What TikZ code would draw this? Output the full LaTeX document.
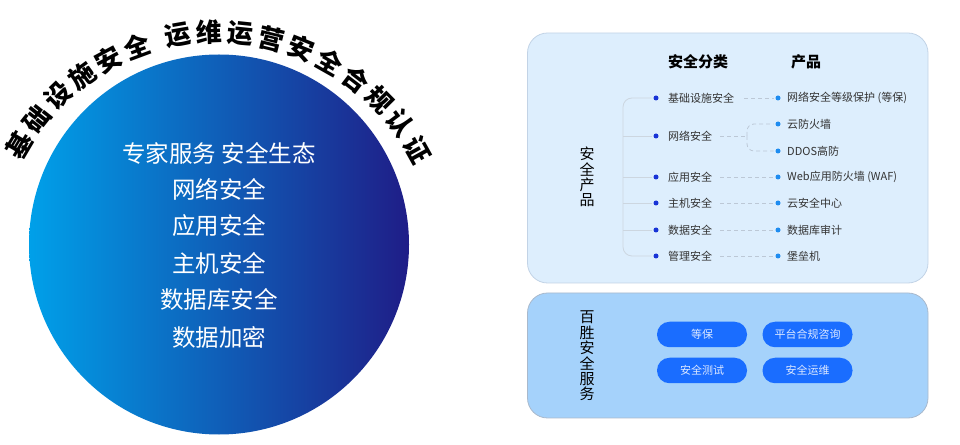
\documentclass[tikz,border=0pt]{standalone}
\usepackage{fontspec}
\setmainfont{Noto Sans CJK SC}
\definecolor{cleft}{HTML}{00A0E9}
\definecolor{cright}{HTML}{1F1D87}
\definecolor{panelA}{HTML}{DDEEFD}
\definecolor{panelAb}{HTML}{C2D3E6}
\definecolor{panelB}{HTML}{A5D2FB}
\definecolor{panelBb}{HTML}{A9B9CC}
\definecolor{pillc}{HTML}{1A6DFF}
\definecolor{pilltext}{HTML}{DCE8FF}
\definecolor{catdotc}{HTML}{1733D6}
\definecolor{proddotc}{HTML}{1E8CF0}
\definecolor{treec}{HTML}{CCD6E0}
\definecolor{dashc}{HTML}{BCC8D6}
\definecolor{txt}{HTML}{333333}
\begin{document}
\begin{tikzpicture}[x=1pt,y=1pt,
  arcchar/.style={font=\fontsize{26}{26}\selectfont\bfseries, inner sep=0pt, text=black},
  circtext/.style={font=\fontsize{23.5}{24}\selectfont, text=white, inner sep=0pt},
  panelbox/.style={rounded corners=20pt, line width=0.8pt},
  header/.style={font=\fontsize{15}{15}\selectfont\bfseries, inner sep=0pt},
  vtext/.style={font=\fontsize{15}{15.4}\selectfont, align=center, inner sep=0pt},
  cattext/.style={font=\fontsize{11}{11}\selectfont, text=txt, anchor=west, inner sep=0pt},
  prodtext/.style={font=\fontsize{11}{11}\selectfont, text=txt, anchor=west, inner sep=0pt},
  catdot/.style={circle, fill=catdotc, inner sep=0pt, minimum size=5pt, outer sep=2pt},
  proddot/.style={circle, fill=proddotc, inner sep=0pt, minimum size=5pt, outer sep=2pt},
  treeline/.style={draw=treec, line width=0.8pt, rounded corners=9pt},
  dashline/.style={draw=dashc, line width=0.8pt, dash pattern=on 4pt off 3pt, rounded corners=7pt},
  pill/.style={rounded corners=12.5pt, fill=pillc, minimum width=90pt, minimum height=25.5pt, text=pilltext, font=\fontsize{11}{11}\selectfont, inner sep=0pt}
]
\useasboundingbox (0,0) rectangle (960,444);

% ---------- circle ----------
\coordinate (cc) at (219,199.5);
\shade[left color=cleft, right color=cright] (cc) circle (190);
\node[circtext] (t1) at (219,291) {专家服务 安全生态};
\node[circtext] (t2) at (219,255) {网络安全};
\node[circtext] (t3) at (219,218) {应用安全};
\node[circtext] (t4) at (219,181) {主机安全};
\node[circtext] (t5) at (219,144) {数据库安全};
\node[circtext] (t6) at (219,107) {数据加密};

% ---------- arc text ----------
\coordinate (arcc) at (217,183);
\foreach \ch [count=\i] in {基,础,设,施,安,全} {
  \pgfmathsetmacro\ang{149.5-(\i-1)*7.82}
  \node[arcchar, rotate=\ang-90] (arcA\i) at ([shift={(\ang:229)}]arcc) {\ch};
}
\foreach \ch [count=\i] in {运,维,运,营,安,全,合,规,认,证} {
  \pgfmathsetmacro\ang{99.8-(\i-1)*7.86}
  \node[arcchar, rotate=\ang-90] (arcB\i) at ([shift={(\ang:229)}]arcc) {\ch};
}

% ---------- panels ----------
\draw[panelbox, fill=panelA, draw=panelAb] (527.5,161) rectangle (928,411) ;
\draw[panelbox, fill=panelB, draw=panelBb] (527.5,26) rectangle (928,151);

% headers
\node[header] (h1) at (698,382) {安全分类};
\node[header] (h2) at (806,382) {产品};

% vertical labels
\node[vtext] (v1) at (587,267) {安\\全\\产\\品};
\node[vtext] (v2) at (587,88) {百\\胜\\安\\全\\服\\务};

% categories
\foreach \n/\y/\s in {1/346/基础设施安全, 2/308/网络安全, 3/267/应用安全, 4/241/主机安全, 5/214/数据安全, 6/188/管理安全} {
  \node[catdot] (c\n) at (656,\y) {};
  \node[cattext] (ct\n) at (668,\y) {\s};
}
% products
\foreach \n/\y/\s in {1/346/网络安全等级保护\hspace{2.5pt}(等保), 2/320/云防火墙, 3/293/DDOS高防, 4/267/Web应用防火墙\hspace{2.5pt}(WAF), 5/241/云安全中心, 6/214/数据库审计, 7/188/堡垒机} {
  \node[proddot] (p\n) at (778,\y) {};
  \node[prodtext] (pt\n) at (787,\y) {\s};
}

% tree
\coordinate (trunk) at (623,267);
\draw[treeline] (c1.west) -| (trunk) |- (c6.west);
\foreach \n in {2,3,4,5} { \draw[treeline] (c\n.west) -- (c\n.west -| trunk); }

% dashed links
\draw[dashline] ([xshift=10pt]ct1.east) -- (p1.west);
\coordinate (split) at (747,308);
\draw[dashline] ([xshift=8pt]ct2.east) -- (split);
\draw[dashline] (split) |- (p2.west);
\draw[dashline] (split) |- (p3.west);
\draw[dashline] ([xshift=8pt]ct3.east) -- (p4.west);
\draw[dashline] ([xshift=8pt]ct4.east) -- (p5.west);
\draw[dashline] ([xshift=8pt]ct5.east) -- (p6.west);
\draw[dashline] ([xshift=8pt]ct6.east) -- (p7.west);

% service pills
\node[pill] (s1) at (702,109.5) {等保};
\node[pill] (s2) at (807.5,109.5) {平台合规咨询};
\node[pill] (s3) at (702,73.5) {安全测试};
\node[pill] (s4) at (807.5,73.5) {安全运维};
\end{tikzpicture}
\end{document}
